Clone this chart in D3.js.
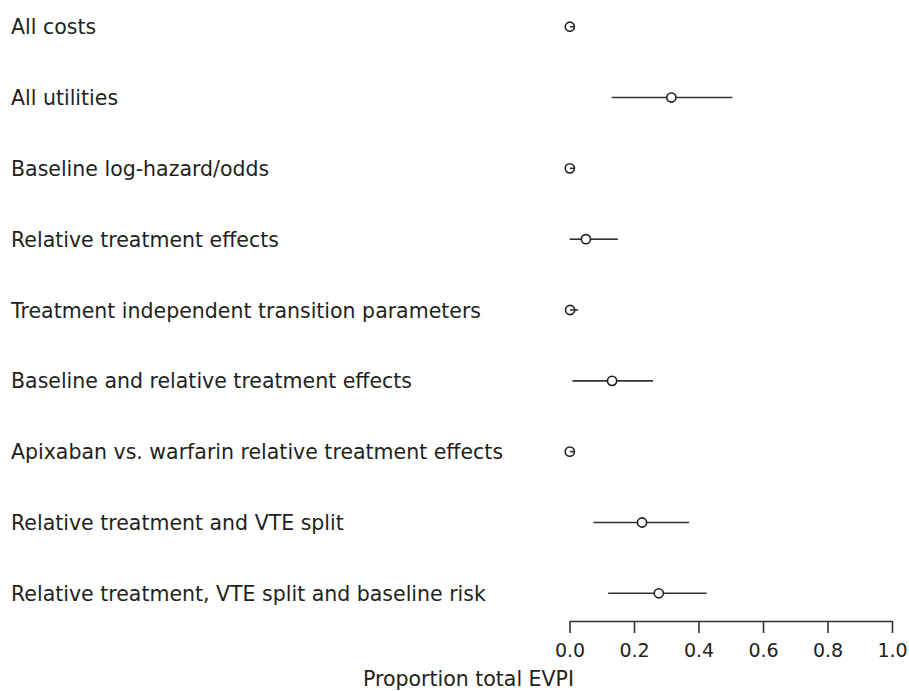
<!DOCTYPE html>
<html>
<head>
<meta charset="utf-8">
<script src="https://cdn.jsdelivr.net/npm/d3@7"></script>
<style>
  html, body { margin: 0; padding: 0; background: #fff; }
  svg { display: block; }
  text { font-family: "DejaVu Sans", "Open Sans", sans-serif; fill: #231f20; }
</style>
</head>
<body>
<svg id="chart" width="909" height="691"></svg>
<script>
// Parameter groups, point estimates of the proportion of total EVPI, and interval bounds
const groups = [
  "All costs",
  "All utilities",
  "Baseline log-hazard/odds",
  "Relative treatment effects",
  "Treatment independent transition parameters",
  "Baseline and relative treatment effects",
  "Apixaban vs. warfarin relative treatment effects",
  "Relative treatment and VTE split",
  "Relative treatment, VTE split and baseline risk"
];
const estimates = [0.001, 0.316, 0.001, 0.051, 0.002, 0.132, 0.001, 0.225, 0.277];
const lowerBounds = [0.001, 0.131, 0.001, 0.0, 0.002, 0.009, 0.001, 0.074, 0.120];
const upperBounds = [0.015, 0.505, 0.015, 0.150, 0.027, 0.259, 0.015, 0.371, 0.425];
const xTicks = [0, 0.2, 0.4, 0.6, 0.8, 1.0];
const axisTitle = "Proportion total EVPI";

const svg = d3.select("#chart");
const ink = "#231f20";
const labelSize = 20.5;
const tickSize = 19;
const r = 4.6;

const x = d3.scaleLinear().domain([0, 1]).range([569.5, 892]);
const y = d3.scalePoint().domain(groups).range([26.7, 593.3]);

// Row labels
svg.append("g")
  .selectAll("text")
  .data(groups)
  .join("text")
  .attr("x", 11)
  .attr("y", d => y(d))
  .attr("dy", "0.37em")
  .attr("font-size", labelSize)
  .text(d => d);

const rows = groups.map((g, i) => ({ g, est: estimates[i], lo: lowerBounds[i], hi: upperBounds[i] }));

// Interval segments: two-sided intervals leave a gap around the marker,
// one-sided intervals starting at the estimate run from the marker centre.
const segs = [];
rows.forEach(d => {
  const cx = x(d.est);
  if (d.lo < d.est) {
    segs.push({ g: d.g, a: x(d.lo), b: cx - r });
    if (x(d.hi) > cx + r) segs.push({ g: d.g, a: cx + r, b: x(d.hi) });
  } else if (d.hi > d.est) {
    segs.push({ g: d.g, a: cx, b: x(d.hi) });
  }
});

svg.append("g")
  .selectAll("line")
  .data(segs)
  .join("line")
  .attr("x1", d => d.a)
  .attr("x2", d => d.b)
  .attr("y1", d => y(d.g))
  .attr("y2", d => y(d.g))
  .attr("stroke", "#333")
  .attr("stroke-width", 1.6);

// Point estimates
svg.append("g")
  .selectAll("circle")
  .data(rows)
  .join("circle")
  .attr("cx", d => x(d.est))
  .attr("cy", d => y(d.g))
  .attr("r", r)
  .attr("fill", "none")
  .attr("stroke", ink)
  .attr("stroke-width", 1.6);

// Bottom axis
const axis = svg.append("g")
  .attr("transform", "translate(0,621)")
  .call(d3.axisBottom(x).tickValues(xTicks).tickFormat(d3.format(".1f")).tickSize(12).tickSizeOuter(0).tickPadding(11));
axis.select(".domain").attr("stroke", "#333").attr("stroke-width", 1.6);
axis.selectAll(".tick line").attr("stroke", "#333").attr("stroke-width", 1.6);
axis.selectAll(".tick text")
  .attr("font-size", tickSize)
  .attr("font-family", "'DejaVu Sans', 'Open Sans', sans-serif")
  .attr("fill", ink);

svg.append("text")
  .attr("x", 574)
  .attr("y", 686)
  .attr("text-anchor", "end")
  .attr("font-size", labelSize)
  .text(axisTitle);
</script>
</body>
</html>
